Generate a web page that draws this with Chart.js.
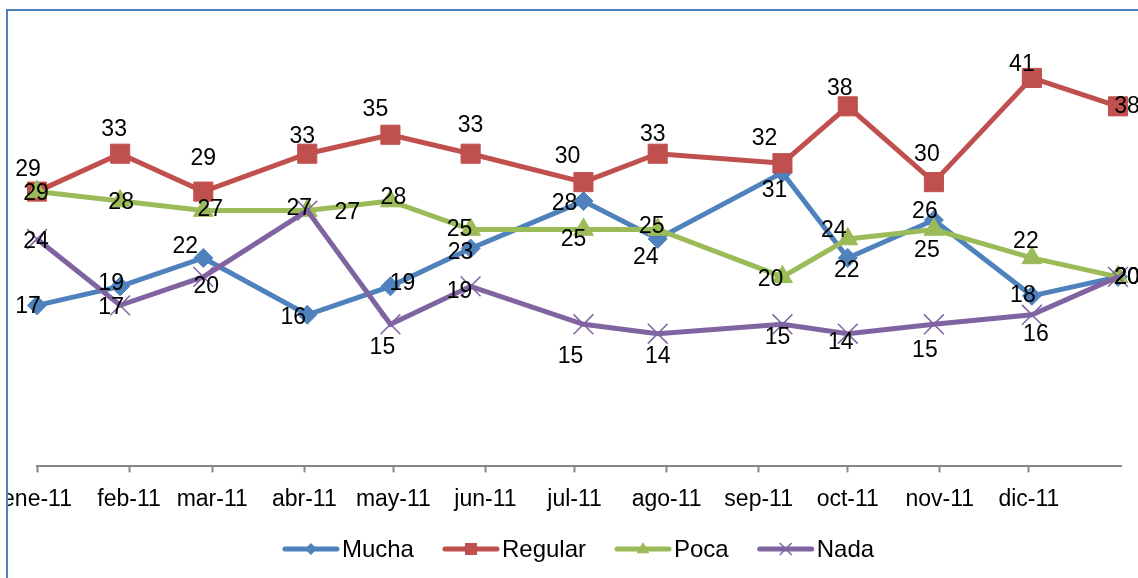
<!DOCTYPE html>
<html>
<head>
<meta charset="utf-8">
<script src="https://cdn.jsdelivr.net/npm/chart.js@4.4.1/dist/chart.umd.min.js"></script>
<style>
  html, body { margin: 0; padding: 0; background: #fff; overflow: hidden; }
</style>
</head>
<body>
<canvas id="chart" width="1138" height="578"></canvas>
<script>
// month ticks on the x axis
const monthLabels = ['ene-11', 'feb-11', 'mar-11', 'abr-11', 'may-11', 'jun-11',
                     'jul-11', 'ago-11', 'sep-11', 'oct-11', 'nov-11', 'dic-11'];

// survey dates (points are placed by date, not by month)
const surveyDates = ['2011-01-01', '2011-01-29', '2011-02-26', '2011-04-02', '2011-04-30',
                     '2011-05-27', '2011-07-04', '2011-07-29', '2011-09-09', '2011-10-01',
                     '2011-10-30', '2011-12-02', '2011-12-31'];

const mucha   = [17, 19, 22, 16, 19, 23, 28, 24, 31, 22, 26, 18, 20];
const regular = [29, 33, 29, 33, 35, 33, 30, 33, 32, 38, 30, 41, 38];
const poca    = [29, 28, 27, 27, 28, 25, 25, 25, 20, 24, 25, 22, 20];
const nada    = [24, 17, 20, 27, 15, 19, 15, 14, 15, 14, 15, 16, 20];

// where each value label sits relative to its point (px)
const labelShift = [
  [[-9,0],[-9,-4],[-18,-12],[-14,2],[12,-4],[-10,3],[-19,2],[-12,18],[-8,17],[-1,12],[-9,-9],[-9,-1],[9,0]],
  [[-9,-23],[-6,-25],[0,-34],[-5,-18],[-15,-26],[0,-29],[-16,-26],[-5,-20],[-18,-26],[-8,-19],[-7,-28],[-10,-14],[9,-1]],
  [[-1,1],[1,1],[7,-2],[-8,-3],[3,-4],[-11,-1],[-10,9],[-6,-4],[-12,2],[-14,-9],[-7,20],[-6,-17],[9,0]],
  [[-1,2],[-9,1],[3,9],[40,1],[-8,22],[-11,4],[-13,31],[0,22],[-5,12],[-7,8],[-9,25],[4,19],[9,0]]
];

const FONT = '"Liberation Sans", Arial, sans-serif';
const DAY = 86400000;
const start = Date.UTC(2011, 0, 1);
const dayOf = s => (Date.parse(s) - start) / DAY;
const monthStarts = monthLabels.map((l, m) => (Date.UTC(2011, m, 1) - start) / DAY);
const xs = surveyDates.map(dayOf);
const pts = arr => arr.map((v, i) => ({ x: xs[i], y: v }));

function series(label, values, color, style, radius, bw, order) {
  return {
    label: label,
    data: pts(values),
    borderColor: color,
    backgroundColor: color,
    borderWidth: 5,
    tension: 0,
    pointStyle: style,
    pointRadius: radius,
    pointBackgroundColor: color,
    pointBorderColor: color,
    pointBorderWidth: bw,
    clip: false,
    order: order
  };
}

function marker(ctx, style, x, y, r) {
  ctx.beginPath();
  if (style === 'rectRot') {
    ctx.moveTo(x, y - r); ctx.lineTo(x + r, y); ctx.lineTo(x, y + r); ctx.lineTo(x - r, y);
    ctx.closePath(); ctx.fill();
  } else if (style === 'rect') {
    ctx.rect(x - r, y - r, 2 * r, 2 * r); ctx.fill();
  } else if (style === 'triangle') {
    ctx.moveTo(x, y - r); ctx.lineTo(x + r * 0.9, y + r * 0.6); ctx.lineTo(x - r * 0.9, y + r * 0.6);
    ctx.closePath(); ctx.fill();
  } else {
    ctx.lineWidth = 1.5;
    ctx.moveTo(x - r, y - r); ctx.lineTo(x + r, y + r);
    ctx.moveTo(x + r, y - r); ctx.lineTo(x - r, y + r);
    ctx.stroke();
  }
}

const extras = {
  id: 'extras',
  afterDatasetsDraw(chart) {
    const ctx = chart.ctx;
    ctx.save();
    ctx.font = '23px ' + FONT;
    ctx.fillStyle = '#000';
    ctx.textAlign = 'center';
    ctx.textBaseline = 'middle';
    chart.data.datasets.forEach((ds, i) => {
      chart.getDatasetMeta(i).data.forEach((pt, j) => {
        const s = labelShift[i][j];
        ctx.fillText(String(ds.data[j].y), pt.x + s[0], pt.y + s[1] + 1);
      });
    });
    ctx.restore();
  },
  afterDraw(chart) {
    const ctx = chart.ctx;
    const area = chart.chartArea;
    ctx.save();
    // legend
    ctx.font = '24px ' + FONT;
    const legendY = 549, boxW = 56, gap = 28;
    const marks = { Mucha: 6, Regular: 6, Poca: 7, Nada: 6 };
    const items = chart.data.datasets.map(ds => ({ ds: ds, w: boxW + 4 + ctx.measureText(ds.label).width }));
    const total = items.reduce((a, it) => a + it.w, 0) + gap * (items.length - 1);
    let x = (area.left + area.right) / 2 - total / 2;
    items.forEach(it => {
      const c = it.ds.borderColor;
      ctx.strokeStyle = c; ctx.fillStyle = c;
      ctx.lineWidth = 5; ctx.lineCap = 'round';
      ctx.beginPath(); ctx.moveTo(x + 2, legendY); ctx.lineTo(x + boxW - 2, legendY); ctx.stroke();
      ctx.lineCap = 'butt';
      marker(ctx, it.ds.pointStyle, x + boxW / 2, legendY, marks[it.ds.label]);
      ctx.fillStyle = '#000';
      ctx.textAlign = 'left'; ctx.textBaseline = 'middle';
      ctx.fillText(it.ds.label, x + boxW + 3, legendY + 1);
      x += it.w + gap;
    });
    // chart frame
    ctx.fillStyle = '#fff';
    ctx.fillRect(0, 0, 6, chart.height);
    ctx.fillRect(0, 0, chart.width, 9);
    ctx.strokeStyle = '#4F81BD';
    ctx.lineWidth = 2;
    ctx.beginPath();
    ctx.moveTo(7, chart.height + 5); ctx.lineTo(7, 10); ctx.lineTo(chart.width + 5, 10);
    ctx.stroke();
    ctx.restore();
  }
};

new Chart(document.getElementById('chart'), {
  type: 'line',
  data: {
    datasets: [
      series('Mucha',   mucha,   '#4F81BD', 'rectRot',  9.5, 1,   4),
      series('Regular', regular, '#C0504D', 'rect',     13.5, 1,  3),
      series('Poca',    poca,    '#9BBB59', 'triangle', 11.5, 1,  2),
      series('Nada',    nada,    '#8064A2', 'crossRot', 14,  1.5, 1)
    ]
  },
  options: {
    responsive: false,
    devicePixelRatio: 1,
    animation: false,
    events: [],
    layout: { padding: { left: 37, right: 17, top: 40, bottom: 52 } },
    plugins: { legend: { display: false }, tooltip: { enabled: false } },
    scales: {
      x: {
        type: 'linear',
        min: 0,
        max: 365,
        afterBuildTicks: scale => { scale.ticks = monthStarts.map(v => ({ value: v })); },
        afterFit: scale => { scale.paddingLeft = 0; scale.paddingRight = 0; },
        ticks: {
          autoSkip: false,
          maxRotation: 0,
          padding: 13,
          color: '#000',
          font: { family: FONT, size: 23 },
          callback: (v, i) => monthLabels[i]
        },
        grid: { drawOnChartArea: false, drawTicks: true, tickLength: 6, tickWidth: 2, tickColor: '#868686' },
        border: { display: true, color: '#868686', width: 2 }
      },
      y: { display: false, min: 0, max: 45 }
    }
  },
  plugins: [extras]
});
</script>
</body>
</html>
